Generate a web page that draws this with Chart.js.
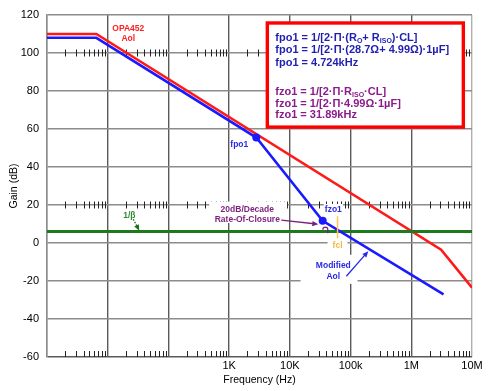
<!DOCTYPE html>
<html><head><meta charset="utf-8">
<script src="https://cdn.jsdelivr.net/npm/chart.js@4/dist/chart.umd.min.js"></script>
<style>html,body{margin:0;padding:0;background:#fff}#wrap{width:500px;height:391px}</style>
</head><body><div id="wrap"><canvas id="c" width="500" height="391"></canvas></div>
<script>
// ---- data ----
const X_TICKS = [1, 10, 100, 1000, 10000, 100000, 1000000, 10000000];
const X_TICK_LABELS = ['', '', '', '1K', '10K', '100k', '1M', '10M'];
const Y_MIN = -60, Y_MAX = 120, Y_STEP = 20;

const AOL_FREQ = [1, 6.5, 3.1e6, 1e7];
const AOL_GAIN = [110, 110, -3.5, -23.5];
const MOD_FREQ = [1, 6.5, 2800, 34700, 3.4e6];
const MOD_GAIN = [108, 108, 55.5, 11.7, -27];
const BETA_FREQ = [1, 1e7];
const BETA_GAIN = [6, 6];
const POLE_FREQ = [2800, 34700];
const POLE_GAIN = [55.5, 11.7];
const FCL_FREQ = 61000;
const MINOR_TICK_ROWS = [100, 20, -60];

const FONT = '"Liberation Sans", Arial, sans-serif';
const pts = (xs, ys) => xs.map((x, i) => ({x, y: ys[i]}));

const annot = {
  id: 'annot',
  beforeDatasetsDraw(chart) {
    const {ctx, scales: {x, y}} = chart;
    ctx.save();
    ctx.strokeStyle = '#222'; ctx.lineWidth = 1;
    MINOR_TICK_ROWS.forEach(row => {
      const py = Math.round(y.getPixelForValue(row));
      for (let d = 0; d < X_TICKS.length - 1; d++) {
        for (let m = 2; m <= 9; m++) {
          const px = Math.round(x.getPixelForValue(X_TICKS[d] * m)) + 0.5;
          ctx.beginPath();
          if (row === Y_MIN) { ctx.moveTo(px, py - 6); ctx.lineTo(px, py); }
          else { ctx.moveTo(px, py - 3.5); ctx.lineTo(px, py + 3.5); }
          ctx.stroke();
        }
      }
    });
    ctx.restore();
  },
  afterDatasetsDraw(chart) {
    const {ctx, scales: {x, y}} = chart;
    const X = f => x.getPixelForValue(f), Y = v => y.getPixelForValue(v);
    ctx.save();
    const label = (t, f, v, color, size, bg, padX, padY) => {
      ctx.font = 'bold ' + size + 'px ' + FONT;
      const px = X(f), py = Y(v);
      if (bg) {
        const w = ctx.measureText(t).width;
        ctx.fillStyle = '#fff';
        ctx.fillRect(px - w / 2 - padX, py - size / 2 - padY, w + 2 * padX, size + 2 * padY);
      }
      ctx.fillStyle = color; ctx.textAlign = 'center'; ctx.textBaseline = 'middle';
      ctx.fillText(t, px, py);
    };
    const arrow = (f1, v1, f2, v2, color, dashed) => {
      const x1 = X(f1), y1 = Y(v1), x2 = X(f2), y2 = Y(v2);
      const a = Math.atan2(y2 - y1, x2 - x1);
      ctx.strokeStyle = color; ctx.fillStyle = color; ctx.lineWidth = 1.3;
      ctx.setLineDash(dashed ? [1.5, 1.5] : []);
      ctx.beginPath(); ctx.moveTo(x1, y1); ctx.lineTo(x2 - 4 * Math.cos(a), y2 - 4 * Math.sin(a)); ctx.stroke();
      ctx.setLineDash([]);
      ctx.beginPath();
      ctx.moveTo(x2, y2);
      ctx.lineTo(x2 - 6 * Math.cos(a) + 2.6 * Math.sin(a), y2 - 6 * Math.sin(a) - 2.6 * Math.cos(a));
      ctx.lineTo(x2 - 6 * Math.cos(a) - 2.6 * Math.sin(a), y2 - 6 * Math.sin(a) + 2.6 * Math.cos(a));
      ctx.closePath(); ctx.fill();
    };
    // backgrounds that hide grid
    ctx.fillStyle = '#fff';
    ctx.fillRect(X(470), Y(21.8), X(9000) - X(470), Y(10.5) - Y(21.8));
    ctx.fillRect(X(15000), Y(-6.2), X(130000) - X(15000), Y(-21.5) - Y(-6.2));
    // red
    label('OPA452', 21.8, 112.6, '#ff2020', 8.5);
    label('Aol', 21.8, 107.4, '#ff2020', 8.5);
    // blue
    label('fpo1', 1471, 52.0, '#2a2ae6', 8.5);
    label('fzo1', 52000, 17.8, '#2a2ae6', 8.5, true, 1, 1);
    label('Modified', 52000, -11.7, '#2a2ae6', 8.5);
    label('Aol', 52000, -17.5, '#2a2ae6', 8.5);
    arrow(85100, -17.5, 196000, -4.3, '#2a2ae6');
    // purple
    label('20dB/Decade', 1991, 17.8, '#7b1f7b', 8.5);
    label('Rate-Of-Closure', 1991, 12.5, '#7b1f7b', 8.5);
    arrow(7230, 12.0, 29400, 9.9, '#7b1f7b');
    ctx.strokeStyle = '#7b1f7b'; ctx.lineWidth = 1.2;
    ctx.beginPath();
    const ax = X(38400), ay = Y(7.0);
    ctx.arc(ax, ay, 2.5, Math.PI, 2 * Math.PI);
    ctx.lineTo(ax + 2.5, ay + 3.5);
    ctx.stroke();
    // green
    label('1/\u03b2', 22.7, 14.6, '#2e8b2e', 8.5);
    arrow(26.4, 12.5, 33.1, 6.5, '#1f6f1f', true);
    // fcl
    ctx.fillStyle = '#fff';
    ctx.fillRect(X(FCL_FREQ) - 10, Y(1.5), 20, Y(-4) - Y(1.5));
    ctx.strokeStyle = '#ffc84a'; ctx.lineWidth = 1.5;
    ctx.beginPath(); ctx.moveTo(X(FCL_FREQ), Y(14.1)); ctx.lineTo(X(FCL_FREQ), Y(2.5)); ctx.stroke();
    label('fcl', FCL_FREQ, -1.2, '#f5b841', 8.5);

    // formula box
    const bx1 = X(4255), bx2 = X(7.2e6), by1 = Y(115.8), by2 = Y(61.0);
    ctx.fillStyle = '#fff'; ctx.fillRect(bx1, by1, bx2 - bx1, by2 - by1);
    ctx.strokeStyle = '#ff0000'; ctx.lineWidth = 3.4;
    ctx.strokeRect(bx1, by1, bx2 - bx1, by2 - by1);
    const NAVY = '#1f1fb0', PURP = '#8b1a8b';
    const lines = [
      {v: 107.88, c: NAVY, s: [['fpo1 = 1/[2\u00b7\u03a0\u00b7(R'], ['O', 1], ['+ R'], ['ISO', 1], [')\u00b7CL]']]},
      {v: 101.56, c: NAVY, s: [['fpo1 = 1/[2\u00b7\u03a0\u00b7(28.7\u03a9+ 4.99\u03a9)\u00b71\u00b5F]']]},
      {v: 94.97, c: NAVY, s: [['fpo1 = 4.724kHz']]},
      {v: 79.69, c: PURP, s: [['fzo1 = 1/[2\u00b7\u03a0\u00b7R'], ['ISO', 1], ['\u00b7CL]']]},
      {v: 73.37, c: PURP, s: [['fzo1 = 1/[2\u00b7\u03a0\u00b74.99\u03a9\u00b71\u00b5F]']]},
      {v: 67.31, c: PURP, s: [['fzo1 = 31.89kHz']]}
    ];
    ctx.textAlign = 'left'; ctx.textBaseline = 'middle';
    lines.forEach(L => {
      let cx = X(5760); const cy = Y(L.v);
      ctx.fillStyle = L.c;
      L.s.forEach(([t, sub]) => {
        ctx.font = 'bold ' + (sub ? 7 : 11) + 'px ' + FONT;
        ctx.fillText(t, cx, cy + (sub ? 3 : 0));
        cx += ctx.measureText(t).width;
      });
    });
    ctx.restore();
  }
};

new Chart(document.getElementById('c'), {
  type: 'line',
  data: {
    datasets: [
      {label: 'poles', data: pts(POLE_FREQ, POLE_GAIN), showLine: false, pointRadius: 4, pointBackgroundColor: '#1a1aff', pointBorderWidth: 0, order: 0},
      {label: 'Modified Aol', data: pts(MOD_FREQ, MOD_GAIN), borderColor: '#1a1aff', borderWidth: 2.6, pointRadius: 0, order: 1},
      {label: '1/beta', data: pts(BETA_FREQ, BETA_GAIN), borderColor: '#1f7a1f', borderWidth: 3, pointRadius: 0, order: 2},
      {label: 'OPA452 Aol', data: pts(AOL_FREQ, AOL_GAIN), borderColor: '#ff1a1a', borderWidth: 2.6, pointRadius: 0, order: 3}
    ]
  },
  options: {
    responsive: false, animation: false, devicePixelRatio: 1,
    layout: {padding: {top: 15, right: 28, left: 0, bottom: 0}},
    plugins: {legend: {display: false}, tooltip: {enabled: false}},
    elements: {line: {tension: 0}},
    scales: {
      x: {
        type: 'logarithmic', min: 1, max: 1e7,
        afterBuildTicks: s => { s.ticks = X_TICKS.map(v => ({value: v})); },
        afterFit: s => { s.height = 34; },
        ticks: {autoSkip: false, maxRotation: 0, padding: 2, color: '#000',
          font: {family: FONT, size: 11}, callback: (v, i) => X_TICK_LABELS[i]},
        grid: {drawTicks: false, lineWidth: 1.4,
          color: c => c.index === 0 ? '#8c8c8c' : (c.index === X_TICKS.length - 1 ? '#b0b0b0' : '#5a5a5a')},
        border: {display: false},
        title: {display: true, text: 'Frequency (Hz)', color: '#000', font: {family: FONT, size: 10.5}, padding: {top: 0, bottom: 4.5}}
      },
      y: {
        min: Y_MIN, max: Y_MAX,
        afterFit: s => { s.width = 47; },
        ticks: {stepSize: Y_STEP, padding: 8, color: '#000', font: {family: FONT, size: 11}},
        grid: {drawTicks: false, lineWidth: 1.5, color: c => c.tick && c.tick.value === Y_MIN ? '#5a5a5a' : '#8c8c8c'},
        border: {color: '#8c8c8c', width: 1.5},
        title: {display: true, text: 'Gain (dB)', color: '#000', font: {family: FONT, size: 10.5}, padding: {top: 7.5, bottom: 0}}
      }
    }
  },
  plugins: [annot]
});
</script></body></html>
